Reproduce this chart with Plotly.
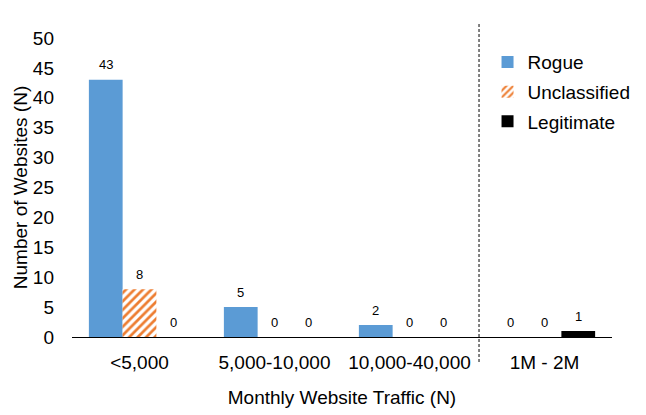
import plotly.graph_objects as go

categories = ["<5,000", "5,000-10,000", "10,000-40,000", "1M - 2M"]
rogue = [43, 5, 2, 0]
unclassified = [8, 0, 0, 0]
legitimate = [0, 0, 0, 1]
series_names = ["Rogue", "Unclassified", "Legitimate"]

FONT = "Liberation Sans, Arial, sans-serif"
BLUE = "#5B9BD5"
ORANGE = "#ED7D31"

fig = go.Figure()
fig.add_trace(go.Bar(name=series_names[0], x=categories, y=rogue,
                     marker=dict(color=BLUE, line=dict(width=0)), legendgroup="a"))
fig.add_trace(go.Bar(name=series_names[1], x=categories, y=unclassified,
                     marker=dict(color="white", line=dict(width=0),
                                 pattern=dict(shape="/", fgcolor=ORANGE, bgcolor="white",
                                              size=6, solidity=0.45, fillmode="replace")),
                     legendgroup="b"))
fig.add_trace(go.Bar(name=series_names[2], x=categories, y=legitimate,
                     marker=dict(color="#000000", line=dict(width=0)), legendgroup="c"))

bargap = 0.25
bw = (1 - bargap) / 3
annotations = []
for j, vals in enumerate([rogue, unclassified, legitimate]):
    for i, v in enumerate(vals):
        annotations.append(dict(x=i + (j - 1) * bw, y=v, xref="x", yref="y",
                                text=str(v), showarrow=False, yanchor="middle",
                                yshift=15, font=dict(size=13, color="#000", family=FONT)))

# page body has an 8px default margin, so margins are offset by 8px
fig.update_layout(
    width=646, height=415,
    margin=dict(l=60, r=42, t=30, b=86),
    paper_bgcolor="white", plot_bgcolor="white",
    barmode="group", bargap=bargap, bargroupgap=0,
    font=dict(family=FONT, size=19, color="#000"),
    showlegend=True,
    legend=dict(x=0.7695, y=0.983, xanchor="left", yanchor="top",
                font=dict(size=19, family=FONT, color="#000"),
                tracegroupgap=2, bgcolor="rgba(0,0,0,0)"),
    annotations=annotations,
    shapes=[dict(type="line", xref="x", yref="paper", x0=2.515, x1=2.515,
                 y0=-0.084, y1=1.05, line=dict(color="#595959", width=1.5, dash="3px,2px"))],
)
fig.update_xaxes(showline=True, linecolor="#000", linewidth=1, showgrid=False,
                 ticks="", ticklabelstandoff=8,
                 tickfont=dict(size=19, family=FONT),
                 title=dict(text="Monthly Website Traffic (N)", standoff=18,
                            font=dict(size=19, family=FONT)))
fig.update_yaxes(range=[0, 50], dtick=5, showline=False, showgrid=False, zeroline=False,
                 ticks="", ticklabelstandoff=17,
                 tickfont=dict(size=19, family=FONT),
                 title=dict(text="Number of Websites (N)", standoff=0,
                            font=dict(size=19, family=FONT)))

fig.write_html("out.html")
